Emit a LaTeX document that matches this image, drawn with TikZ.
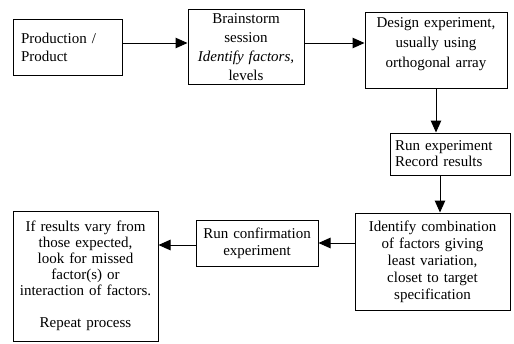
\documentclass[tikz,border=0pt]{standalone}
\usepackage{fontspec}
\setmainfont{Liberation Serif}
\usetikzlibrary{arrows.meta}
\begin{document}
\begin{tikzpicture}[x=1pt,y=1pt,
  box/.style={draw, line width=1pt, inner sep=0pt, font=\fontsize{15}{17}\selectfont, align=center},
  txt/.style={inner sep=0pt, align=center},
  arr/.style={line width=1pt, -{Triangle[length=12pt,width=10.5pt]}}]
\useasboundingbox (0,0) rectangle (514,-343);
\node[box, minimum width=109, minimum height=56, text width=93pt, align=left, font=\fontsize{15}{18}\selectfont] (b1) at (67.5,-47) {Production /\\Product};
\node[box, minimum width=116, minimum height=75, text width=112pt, font=\fontsize{15}{19}\selectfont] (b2) at (246,-47) {Brainstorm\\session\\\textit{Identify factors,}\\levels};
\node[box, minimum width=142, minimum height=76] (b3) at (436,-50) {};
\node[txt, font=\fontsize{15}{20}\selectfont, text width=138pt] (b3t) at (436,-44) {Design experiment,\\usually using\\orthogonal array};
\node[box, minimum width=120, minimum height=42, text width=110pt, align=left, font=\fontsize{15}{16}\selectfont] (b4) at (450,-154) {Run experiment\\Record results};
\node[box, minimum width=155, minimum height=97, text width=151pt] (b5) at (432.5,-261.5) {Identify combination\\of factors giving\\least variation,\\closet to target\\specification};
\node[box, minimum width=122, minimum height=46, text width=120pt] (b6) at (257,-243) {Run confirmation\\experiment};
\node[box, minimum width=145, minimum height=130, text width=143pt, font=\fontsize{15}{16}\selectfont] (b7) at (85.5,-276) {If results vary from\\those expected,\\look for missed\\factor(s) or\\interaction of factors.\\[16pt]Repeat process};
\draw[arr] ([yshift=4pt]b1.east) -- ([yshift=4pt]b1.east -| b2.west);
\draw[arr] ([yshift=4pt]b2.east) -- ([yshift=4pt]b2.east -| b3.west);
\draw[arr] (b3.south) -- (b3.south |- b4.north);
\draw[arr] ([xshift=-10pt]b4.south) -- ([xshift=-10pt]b4.south |- b5.north);
\draw[arr] (b5.west |- b6.east) -- (b6.east);
\draw[arr] ([yshift=-2pt]b6.west) -- ([yshift=-2pt]b6.west -| b7.east);
\end{tikzpicture}
\end{document}
